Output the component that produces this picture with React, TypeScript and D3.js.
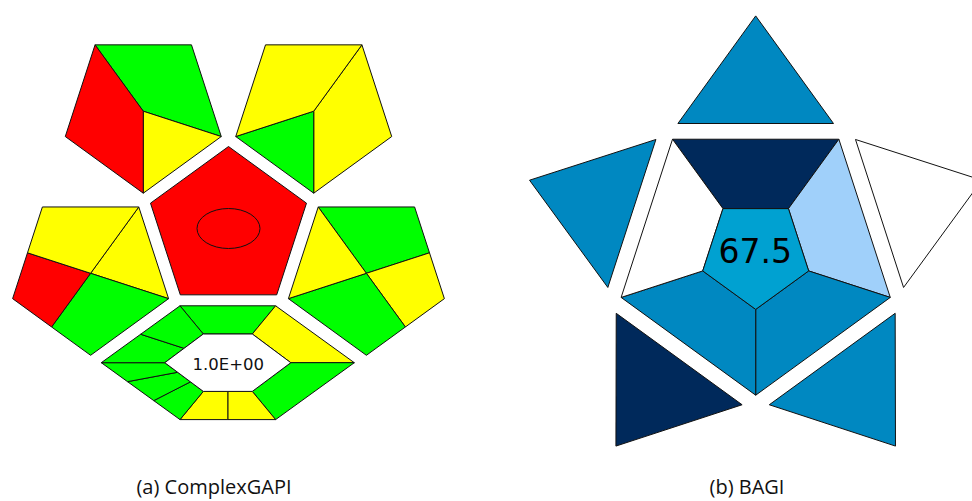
import React from "react";
import * as d3 from "d3";

// ---------- ComplexGAPI ----------
const gapiLevels = ["green", "yellow", "red"];
const gapiPalette = ["#00ff00", "#ffff00", "#ff0000"];

// Outer pentagon blocks: direction from the centre block (deg), wedge cuts along
// the boundary (in edge units, vertex 0 = upper-left corner) and the level of each wedge.
const blockDirections = [234, 306, 162, 18];
const blockCuts = [
  [0, 2, 3],
  [1, 3, 4],
  [1, 2, 3.5, 4.5],
  [0, 1.5, 2.5, 4],
];
const blockLevels = [
  ["green", "yellow", "red"],
  ["yellow", "green", "yellow"],
  ["yellow", "green", "red", "yellow"],
  ["green", "yellow", "green", "yellow"],
];
const centreLevel = "red";

// Hexagon ring sides: top, upper right, lower right, bottom, lower left, upper left
const ringLevels = [
  ["green"],
  ["yellow"],
  ["green"],
  ["yellow", "yellow"],
  ["green", "green", "green"],
  ["green", "green"],
];
const ringLabel = "1.0E+00";

// ---------- BAGI ----------
const bagiShades = ["dark", "medium", "light", "white"];
const bagiPalette = ["#00295b", "#0088c1", "#a0d0fa", "#ffffff"];
// ring segments and star tips, one per pentagon edge (top, upper right, lower right, lower left, upper left)
const bagiRing = ["dark", "light", "medium", "medium", "white"];
const bagiTips = ["medium", "white", "medium", "dark", "medium"];
const bagiCoreColor = "#00a1d1";
const bagiScore = 67.5;

const captions = ["(a) ComplexGAPI", "(b) BAGI"];

const W = 972;
const H = 501;

type Pt = [number, number];
const rad = (d: number) => (d * Math.PI) / 180;
const lineGen = d3.line<Pt>().curve(d3.curveLinearClosed);

function polygon(cx: number, cy: number, r: number, startDeg: number, n: number): Pt[] {
  return d3.range(n).map((i) => {
    const a = rad(startDeg + (360 / n) * i);
    return [cx + r * Math.cos(a), cy + r * Math.sin(a)] as Pt;
  });
}
const lerp = (a: Pt, b: Pt, t: number): Pt => [a[0] + (b[0] - a[0]) * t, a[1] + (b[1] - a[1]) * t];

function boundaryPoint(vs: Pt[], t: number): Pt {
  const n = vs.length;
  const i = Math.floor(t);
  return lerp(vs[((i % n) + n) % n], vs[(((i + 1) % n) + n) % n], t - i);
}

function wedge(c: Pt, vs: Pt[], t0: number, t1: number): Pt[] {
  const pts: Pt[] = [c, boundaryPoint(vs, t0)];
  for (let k = Math.floor(t0) + 1; k < t1; k++) pts.push(vs[k % vs.length]);
  pts.push(boundaryPoint(vs, t1));
  return pts;
}

const gapiColor = d3.scaleOrdinal<string, string>().domain(gapiLevels).range(gapiPalette);
const bagiColor = d3.scaleOrdinal<string, string>().domain(bagiShades).range(bagiPalette);

const STROKE = "#111";

function Gapi() {
  const C: Pt = [228.5, 228.5];
  const R = 82;
  const D = 145;
  const items: JSX.Element[] = [];

  // surrounding pentagons (pointing down)
  blockDirections.forEach((dir, b) => {
    const c: Pt = [C[0] + D * Math.cos(rad(dir)), C[1] + D * Math.sin(rad(dir))];
    const vs = polygon(c[0], c[1], R, 234, 5);
    const cuts = blockCuts[b];
    cuts.forEach((t0, j) => {
      const t1 = j + 1 < cuts.length ? cuts[j + 1] : cuts[0] + 5;
      items.push(
        <path
          key={`b${b}-${j}`}
          d={lineGen(wedge(c, vs, t0, t1)) || ""}
          fill={gapiColor(blockLevels[b][j])}
          stroke={STROKE}
          strokeWidth={1}
          strokeLinejoin="round"
        />
      );
    });
  });

  // centre pentagon (pointing up) with its ellipse
  const cv = polygon(C[0], C[1], R, 270, 5);
  items.push(
    <path key="centre" d={lineGen(cv) || ""} fill={gapiColor(centreLevel)} stroke={STROKE} strokeWidth={1} />
  );
  items.push(
    <ellipse key="ell" cx={C[0]} cy={C[1]} rx={31.5} ry={20} fill="none" stroke={STROKE} strokeWidth={1} />
  );

  // hexagon ring
  const hc: Pt = [227.8, 362.7];
  const hexPts = (hw: number, ht: number, hh: number): Pt[] => [
    [hc[0] - ht, hc[1] - hh],
    [hc[0] + ht, hc[1] - hh],
    [hc[0] + hw, hc[1]],
    [hc[0] + ht, hc[1] + hh],
    [hc[0] - ht, hc[1] + hh],
    [hc[0] - hw, hc[1]],
  ];
  const outer = hexPts(126.5, 47.8, 56.9);
  const inner = hexPts(63, 24.5, 28.7);
  ringLevels.forEach((levels, s) => {
    const n = levels.length;
    const o0 = outer[s], o1 = outer[(s + 1) % 6];
    const i0 = inner[s], i1 = inner[(s + 1) % 6];
    levels.forEach((lv, k) => {
      const pts: Pt[] = [
        lerp(o0, o1, k / n),
        lerp(o0, o1, (k + 1) / n),
        lerp(i0, i1, (k + 1) / n),
        lerp(i0, i1, k / n),
      ];
      items.push(
        <path key={`r${s}-${k}`} d={lineGen(pts) || ""} fill={gapiColor(lv)} stroke={STROKE} strokeWidth={1} strokeLinejoin="round" />
      );
    });
  });
  items.push(<path key="hole" d={lineGen(inner) || ""} fill="#fff" stroke={STROKE} strokeWidth={1} />);
  items.push(
    <text
      key="lbl"
      x={hc[0] + 0.5}
      y={hc[1] + 7.3}
      textAnchor="middle"
      fontFamily="DejaVu Sans"
      fontSize={16.5}
      fill="#111"
    >
      {ringLabel}
    </text>
  );
  return <g>{items}</g>;
}

function Bagi() {
  const c: Pt = [755.7, 253.7];
  const Ro = 141.5;
  const Ri = 55.7;
  const outer = polygon(c[0], c[1], Ro, 234, 5);
  const inner = polygon(c[0], c[1], Ri, 234, 5);
  const items: JSX.Element[] = [];

  // star tips: built pointing up, then rotated to face each edge
  const apex = 237.8;
  const baseDist = 130.2;
  const halfBase = 77.8;
  bagiTips.forEach((shade, e) => {
    const rot = rad(72 * e);
    const local: Pt[] = [
      [0, -apex],
      [halfBase, -baseDist],
      [-halfBase, -baseDist],
    ];
    const pts = local.map(([x, y]) => [
      c[0] + x * Math.cos(rot) - y * Math.sin(rot),
      c[1] + x * Math.sin(rot) + y * Math.cos(rot),
    ]) as Pt[];
    items.push(
      <path key={`t${e}`} d={lineGen(pts) || ""} fill={bagiColor(shade)} stroke={STROKE} strokeWidth={1} strokeLinejoin="round" />
    );
  });

  bagiRing.forEach((shade, e) => {
    const pts: Pt[] = [outer[e], outer[(e + 1) % 5], inner[(e + 1) % 5], inner[e]];
    items.push(
      <path key={`s${e}`} d={lineGen(pts) || ""} fill={bagiColor(shade)} stroke={STROKE} strokeWidth={1} strokeLinejoin="round" />
    );
  });
  items.push(<path key="core" d={lineGen(inner) || ""} fill={bagiCoreColor} stroke={STROKE} strokeWidth={1} />);
  items.push(
    <text key="score" x={c[0] - 0.5} y={c[1] + 9} textAnchor="middle" fontFamily="DejaVu Sans" fontSize={33} fill="#000">
      {bagiScore.toFixed(1)}
    </text>
  );
  return <g>{items}</g>;
}

export default function App() {
  const captionX = [214, 747];
  return (
    <svg
      width={W}
      height={H}
      viewBox={`0 0 ${W} ${H}`}
      style={{ position: "absolute", left: 0, top: 0, overflow: "hidden", background: "#fff" }}
    >
      <rect width={W} height={H} fill="#fff" />
      <Gapi />
      <Bagi />
      {captions.map((t, i) => (
        <text key={t} x={captionX[i]} y={494} textAnchor="middle" fontFamily="Open Sans" fontSize={20} fill="#111">
          {t}
        </text>
      ))}
    </svg>
  );
}
